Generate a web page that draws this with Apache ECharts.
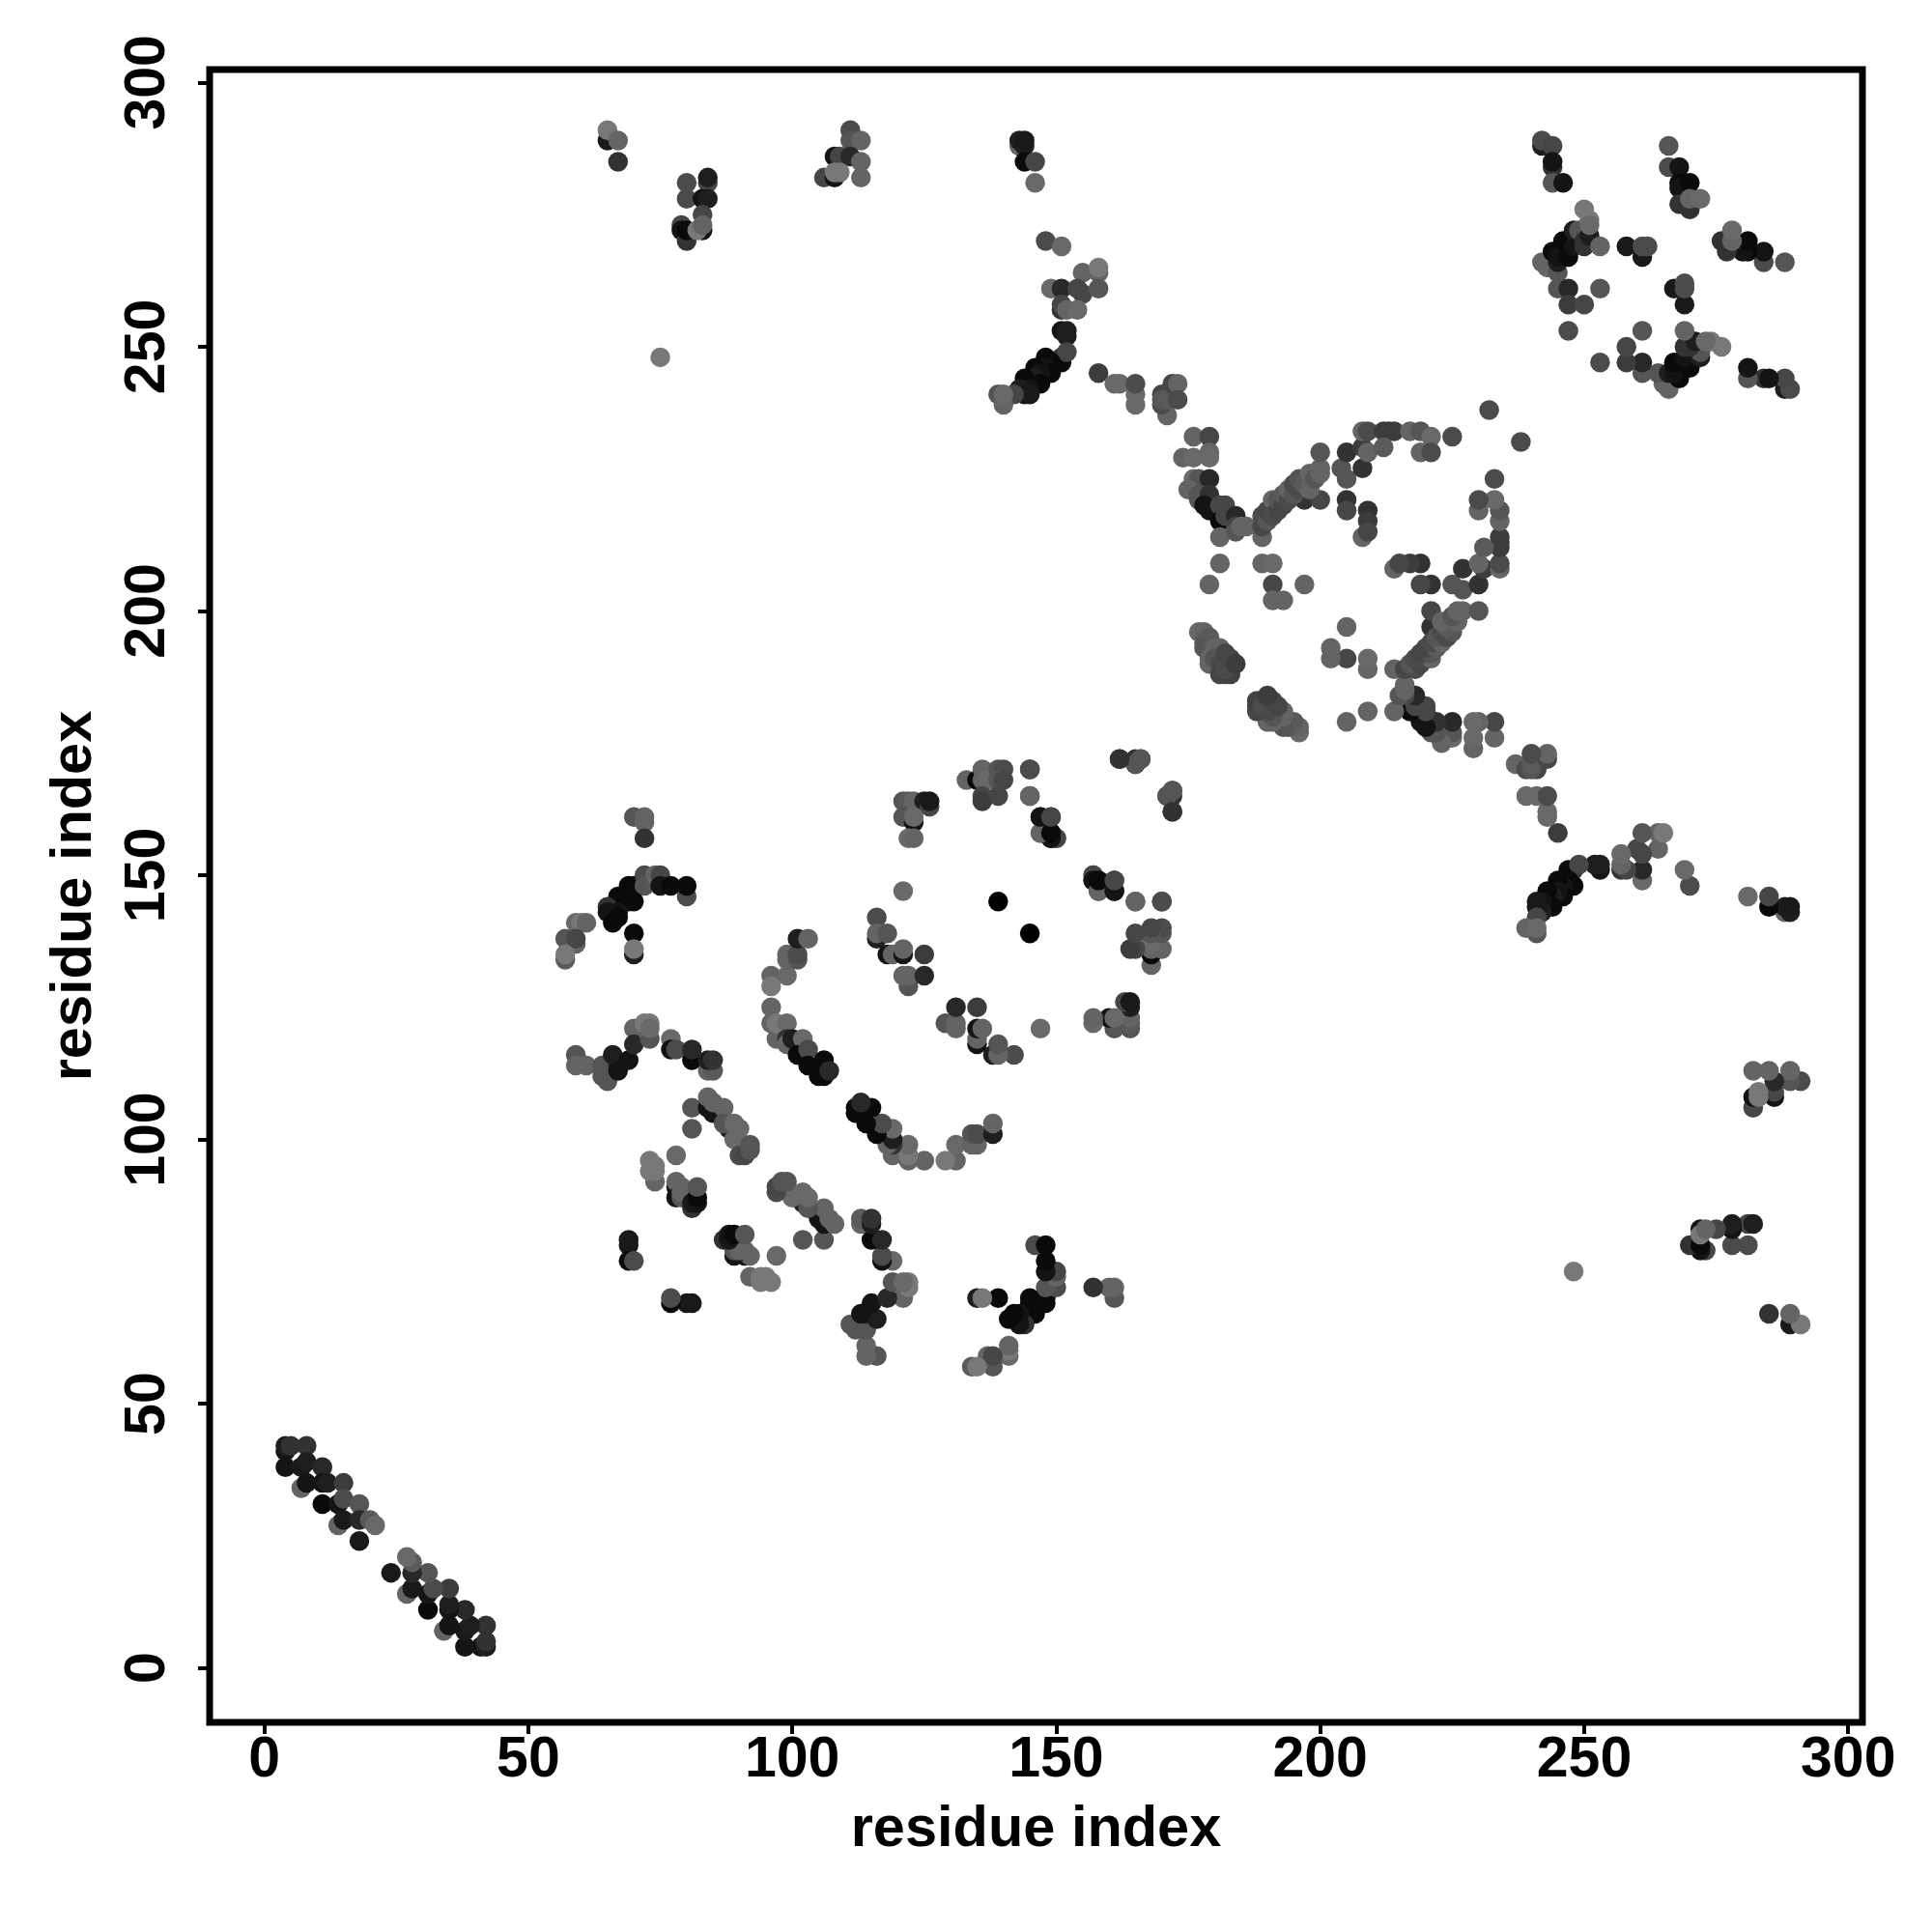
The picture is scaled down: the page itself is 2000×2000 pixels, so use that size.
<!DOCTYPE html>
<html>
<head>
<meta charset="utf-8">
<script src="https://cdn.jsdelivr.net/npm/echarts@6/dist/echarts.min.js"></script>
<style>html,body{margin:0;padding:0;background:#fff}#c{width:2000px;height:2000px}</style>
</head>
<body>
<div id="c"></div>
<script>
// Each contact: [residue i, residue j, level]; level 0 = strongest contact, 12 = weakest drawn.
const contactsSheetA = [[7,34,10],[4,41,2],[4,42,3],[5,42,5],[8,42,5],[4,38,2],[7,38,2.5],[8,39,3],[8,35,2],[11,38,4],[11,35,2],[12,35,3],[11,31,1],[15,35,6],[14,27,10],[14,31,2],[15,32,7.5],[15,28,2.5],[18,31,8.5],[18,28,4],[18,24,2.5],[20,28,9],[21,27,10.5]];
const contactsTopLeft = [[65,289,2.5],[65,291,12],[67,289,10],[67,285,5],[80,281,7.5],[80,278,7.5],[84,281,7],[84,282,3],[83,278,2],[84,278,3],[83,275,7],[79,273,7],[79,272,2],[80,270,5],[80,272,1],[83,272,2],[82,272,12],[83,273,10],[111,291,7.5],[111,289,8.5],[113,289,10],[108,286,2],[109,286,7],[111,286,4],[113,285,10],[106,282,7],[108,282,2],[108,283,12],[109,283,12],[113,282,10],[75,248,12]];
const contactsTopMid = [[143,288,10],[144,288,3],[143,289,3],[144,289,2.5],[144,285,1],[146,285,7],[146,281,10.5],[148,270,7.5],[151,269,10.5],[155,264,10],[158,264,10],[158,265,12],[149,261,10.5],[151,261,4],[154,261,7],[155,260,7],[158,261,8.5],[151,257,5],[151,258,7],[152,257,10],[154,257,10.5],[151,253,2],[152,253,3],[152,252,3],[151,248,5],[151,247,1],[152,249,7],[149,247,1],[148,248,1],[148,246,2],[149,245,1],[146,246,1],[147,245,2],[146,244,3],[147,243,1],[144,244,1],[145,242,2],[143,242,3],[144,241,2.5],[145,241,2.5],[142,241,7],[139,241,8.5],[140,239,10],[140,241,10.5],[158,245,6],[161,243,10.5],[162,243,10.5],[165,239,10.5],[165,241,10.5],[165,243,7.5],[171,237,10],[170,239,7.5],[170,241,7],[170,240,8.5],[171,240,9],[172,243,7],[173,243,10],[173,240,7.5]];
const contactsUpperBand = [[176,233,10],[179,233,7],[174,229,10],[176,229,10.5],[179,230,10],[179,229,10.5],[176,225,10.5],[177,225,8.5],[175,223,10],[179,225,4],[177,222,8.5],[177,221,8.5],[179,222,5],[178,220,2],[179,219,2],[181,220,7],[182,220,7],[181,217,1],[182,218,7],[184,218,4],[184,216,7],[181,214,10],[184,215,8.5],[185,216,10],[186,216,10],[197,221,5],[200,221,7],[189,214,10],[189,216,7],[189,218,7.5],[190,217,8.5],[190,219,7],[191,221,10],[191,218,7.5],[192,219,7],[192,221,8.5],[193,220,7],[193,222,9],[194,221,7.5],[194,223,10],[195,222,8.5],[195,224,7.5],[196,223,7.5],[196,225,8.5],[197,224,9],[198,223,10],[198,226,10],[199,225,8.5],[200,227,10],[200,226,10],[200,230,8.5]];
const contactsUpperLoop = [[204,227,8.5],[205,225,8.5],[205,230,5],[208,227,5],[208,231,6],[209,230,10],[208,234,10],[209,234,7.5],[212,234,6],[213,234,6],[214,234,6],[212,231,9],[217,234,10],[219,234,8.5],[221,233,10.5],[219,230,10],[221,230,7.5],[225,233,7.5],[232,238,7.5],[205,221,5],[205,219,7],[209,219,5],[209,217,6],[208,214,10],[209,215,7],[181,209,10],[189,209,10],[191,209,10.5],[179,205,10],[191,205,7],[197,205,10],[191,202,10],[193,202,10]];
const contactsNearDiagonal = [[177,196,10.5],[178,196,10],[179,195,9],[178,194,9],[178,193,8.5],[179,191,10],[179,190,10],[180,193,10],[181,193,10],[180,191,8.5],[181,190,7.5],[181,188,7],[182,188,7],[183,188,6.5],[182,189,7.5],[182,192,7],[183,191,7],[184,190,6]];
const contactsUpperRight = [[242,288,3],[242,289,7.5],[244,288,7],[244,284,5],[244,285,2],[244,281,8.5],[246,281,2],[266,288,8.5],[266,284,7.5],[268,284,2],[268,281,1],[268,280,2],[270,281,1],[268,277,5],[270,277,4],[270,276,5],[270,278,10],[272,278,10.5],[242,266,10],[243,265,10],[245,264,8.5],[245,266,3],[244,268,1],[246,268,1],[245,267,2],[247,267,1],[246,270,1],[248,269,2],[248,272,3],[249,272,8.5],[250,270,5],[250,269,5],[251,271,3],[253,269,10],[250,276,12],[251,274,12],[251,273,10.5],[258,269,2.5],[261,267,2.5],[261,269,7.5],[262,269,7.5],[245,261,8.5],[247,261,4],[253,261,8.5],[247,258,6],[250,258,7],[247,253,7.5]];
const contactsLeftArc = [[70,161,8.5],[72,161,10],[72,160,10],[72,157,5],[69,148,1],[70,148,1],[72,150,7.5],[72,148,8.5],[74,150,10],[75,150,7],[75,148,2],[77,148,1],[80,146,7.5],[80,148,1],[69,145,2],[70,145,1],[67,146,1],[65,144,5],[65,143,2],[67,143,2],[66,141,1],[67,142,1],[70,139,1],[70,135,3],[70,136,12],[59,141,10.5],[60,141,12],[61,141,10],[57,138,8.5],[59,137,10],[59,138,7],[57,134,9],[57,135,12]];
const contactsLeftWave = [[59,116,8.5],[59,114,10],[61,114,10],[64,114,8.5],[64,112,8.5],[65,111,8.5],[66,116,3],[67,114,3],[67,113,2],[69,115,2],[70,121,10],[70,118,4],[73,119,8.5],[72,122,12],[73,122,12],[73,121,10.5],[77,119,10.5],[77,117,2],[78,117,7.5],[81,115,1],[81,117,4],[84,113,10],[85,113,9],[84,115,3],[85,115,5]];
const contactsMidChain = [[81,106,8.5],[81,102,8.5],[84,106,2],[85,105,2],[84,108,10],[85,107,10],[87,106,10],[88,102,3],[87,103,8.5],[89,103,10.5],[90,102,10.5],[89,100,10.5],[90,97,7.5],[91,97,7],[92,99,8.5],[92,98,8.5]];
const contactsLowerLeft = [[78,97,10.5],[74,92,10],[73,94,12],[74,94,12],[73,96,12],[74,95,12],[78,91,2],[78,92,10],[78,89,2],[79,89,8.5],[79,90,10],[79,91,10],[81,87,5],[81,88,2.5],[82,88,2],[82,89,1],[82,91,8.5],[69,81,2.5],[69,80,2.5],[69,77,1],[70,77,7.5]];
const contactsCentreChain = [[96,125,10],[96,122,10],[97,119,10],[98,119,10],[97,122,12],[99,122,10.5],[99,119,5],[99,118,10],[100,119,3],[102,119,10.5],[101,116,1],[103,117,7.5],[103,114,1],[105,112,1],[106,112,1],[106,115,1],[107,113,4],[96,131,10],[96,129,12],[99,131,10.5],[99,134,10],[99,135,10],[101,134,8.5],[101,135,7.5],[101,138,3],[103,138,10]];
const contactsCentreInner = [[116,142,7.5],[116,138,3],[116,139,10],[118,139,8.5],[118,135,2],[119,135,10],[121,135,2],[121,136,10],[125,135,6],[121,147,10.5],[122,129,8.5],[121,131,10],[122,131,10],[125,131,4]];
const contactsRing = [[121,164,8.5],[122,164,9],[123,164,10],[125,164,3],[126,163,7],[126,164,2.5],[121,161,8.5],[123,160,2],[123,161,10.5],[122,157,10.5],[123,157,10],[133,168,10],[135,168,1],[136,170,10],[136,168,10],[137,168,10.5],[139,170,8.5],[140,170,7.5],[139,168,8.5],[140,168,7],[136,165,7],[136,164,6],[139,165,7],[145,170,7],[145,165,10],[147,161,1],[149,161,7],[147,158,10],[149,158,2],[149,157,2],[150,157,7],[162,172,6],[165,171,9],[165,172,5],[166,172,8.5],[171,165,8.5],[172,166,8.5],[172,162,5],[157,150,7],[157,149,2],[158,147,10],[158,149,1],[161,147,2],[161,149,7],[165,145,10],[170,145,7.5],[139,145,0]];

const axisTicks = [0, 50, 100, 150, 200, 250, 300];
const axisTitle = 'residue index';

const contacts = [].concat(contactsSheetA, contactsTopLeft, contactsTopMid, contactsUpperBand,
  contactsUpperLoop, contactsNearDiagonal, contactsUpperRight, contactsLeftArc, contactsLeftWave,
  contactsMidChain, contactsLowerLeft, contactsCentreChain, contactsCentreInner, contactsRing);
// The contact map is symmetric: each listed pair appears on both sides of the diagonal.
const points = [];
contacts.forEach(function (c) { points.push([c[0], c[1], c[2]]); points.push([c[1], c[0], c[2]]); });

const font = 'Liberation Sans';
function axis(min, max, rotate, margin, gap) {
  return {
    type: 'value', min: min, max: max,
    name: axisTitle, nameLocation: 'middle', nameGap: gap,
    nameTextStyle: { fontFamily: font, fontWeight: 'bold', fontSize: 59.5, color: '#000' },
    axisLine: { show: false, onZero: false },
    splitLine: { show: false },
    axisTick: { show: true, length: 12, inside: false, customValues: axisTicks, lineStyle: { color: '#000', width: 4 } },
    axisLabel: { customValues: axisTicks, rotate: rotate, margin: margin, hideOverlap: false, showMinLabel: true, showMaxLabel: true,
      fontFamily: font, fontWeight: 'bold', fontSize: 59, color: '#000' }
  };
}
const chart = echarts.init(document.getElementById('c'), null, { renderer: 'canvas', width: 2000, height: 2000 });
chart.setOption({
  backgroundColor: '#fff',
  animation: false,
  grid: { show: true, left: 217, top: 72, width: 1711, height: 1711, containLabel: false, borderColor: '#000', borderWidth: 7, backgroundColor: 'transparent' },
  xAxis: axis(-10.36, 302.7, 0, 10, 82),
  yAxis: axis(-10.31, 302.45, 90, 34, 109),
  visualMap: { show: false, type: 'continuous', dimension: 2, min: 0, max: 12, inRange: { color: ['#000000', '#787878'] }, seriesIndex: 0 },
  series: [{ type: 'scatter', data: points, symbol: 'circle', symbolSize: 20.5, silent: true, progressive: 0, large: false, itemStyle: { opacity: 1 } }]
});
</script>
</body>
</html>
